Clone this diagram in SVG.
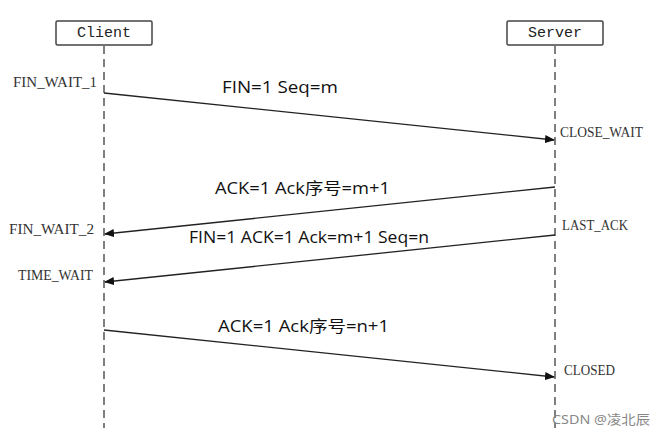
<svg xmlns="http://www.w3.org/2000/svg" width="666" height="435" viewBox="0 0 666 435">
<defs>
<marker id="ah" markerWidth="10" markerHeight="8" refX="9" refY="4" orient="auto" markerUnits="userSpaceOnUse">
<path d="M0,0 L10,4 L0,8 Z" fill="#111"/>
</marker>
<style>
.box{fill:#fff;stroke:#444;stroke-width:1.5}
.life{stroke:#555;stroke-width:1.5;stroke-dasharray:8 5;fill:none}
.msg{stroke:#222;stroke-width:1.3;fill:none}
.hdr{font-family:"Liberation Mono","DejaVu Sans Mono",monospace;font-size:15px;fill:#222}
.st{font-family:"Liberation Serif","DejaVu Serif",serif;font-size:15px;fill:#333}
.lbl{font-family:"Open Sans","Noto Sans","Noto Sans CJK SC",sans-serif;font-size:16px;fill:#111}
.wm{font-family:"Noto Sans","Noto Sans CJK SC",sans-serif;font-size:13px;fill:#888}
</style>
</defs>
<rect width="666" height="435" fill="#fff"/>
<g id="client">
<rect class="box" x="56" y="21" width="96" height="24" rx="1.5"/>
<text class="hdr" x="104" y="37" text-anchor="middle">Client</text>
<line class="life" x1="104" y1="46" x2="104" y2="428"/>
</g>
<g id="server">
<rect class="box" x="507" y="21" width="96" height="24" rx="1.5"/>
<text class="hdr" x="555" y="37" text-anchor="middle">Server</text>
<line class="life" x1="555" y1="46" x2="555" y2="428"/>
</g>
<g id="states">
<text class="st" x="13" y="87" textLength="84" lengthAdjust="spacingAndGlyphs">FIN_WAIT_1</text>
<text class="st" x="560" y="137" textLength="83" lengthAdjust="spacingAndGlyphs">CLOSE_WAIT</text>
<text class="st" x="9" y="234" textLength="85" lengthAdjust="spacingAndGlyphs">FIN_WAIT_2</text>
<text class="st" x="562" y="230" textLength="66" lengthAdjust="spacingAndGlyphs">LAST_ACK</text>
<text class="st" x="18" y="280" textLength="75" lengthAdjust="spacingAndGlyphs">TIME_WAIT</text>
<text class="st" x="564" y="375" textLength="51" lengthAdjust="spacingAndGlyphs">CLOSED</text>
</g>
<g id="connectors">
<line class="msg" x1="104" y1="93" x2="554" y2="140" marker-end="url(#ah)"/>
<line class="msg" x1="555" y1="187" x2="105" y2="234" marker-end="url(#ah)"/>
<line class="msg" x1="555" y1="235" x2="105" y2="282" marker-end="url(#ah)"/>
<line class="msg" x1="104" y1="330" x2="554" y2="377" marker-end="url(#ah)"/>
</g>
<g id="labels">
<text class="lbl" x="222" y="93" textLength="116" lengthAdjust="spacingAndGlyphs">FIN=1  Seq=m</text>
<text class="lbl" x="215" y="194" textLength="175" lengthAdjust="spacingAndGlyphs">ACK=1 Ack序号=m+1</text>
<text class="lbl" x="189" y="243" textLength="240" lengthAdjust="spacingAndGlyphs">FIN=1 ACK=1 Ack=m+1 Seq=n</text>
<text class="lbl" x="218" y="332" textLength="171" lengthAdjust="spacingAndGlyphs">ACK=1 Ack序号=n+1</text>
</g>
<text class="wm" x="552" y="424" textLength="98" lengthAdjust="spacingAndGlyphs">CSDN @凌北辰</text>
</svg>
